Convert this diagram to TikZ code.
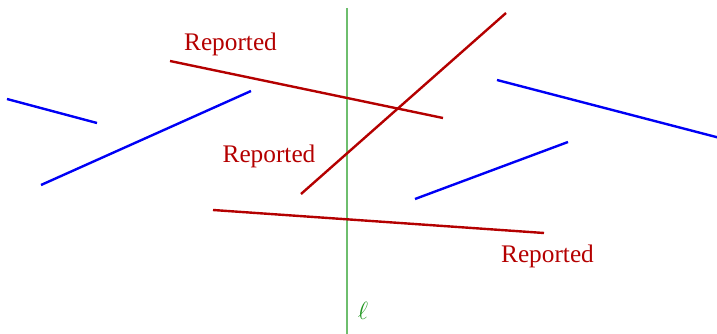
\documentclass[tikz,border=0pt]{standalone}
\usepackage{fontspec}
\setmainfont{Liberation Serif}
\begin{document}
\begin{tikzpicture}[x=1pt,y=-1pt,
  redline/.style={draw={rgb,255:red,180;green,0;blue,0},line width=2.4pt},
  blueline/.style={draw={rgb,255:red,0;green,0;blue,245},line width=2.4pt},
  lline/.style={draw={rgb,255:red,110;green,190;blue,110},line width=1.1pt},
  lbl/.style={text={rgb,255:red,180;green,0;blue,0},font=\fontsize{25.3}{30}\selectfont,inner sep=0pt,anchor=base}]
\useasboundingbox (0,0) rectangle (717,334);
% vertical line l
\coordinate (lt) at (347,8);
\coordinate (lb) at (347,334);
\draw[lline] (lt) -- (lb);
\node[inner sep=0pt,anchor=base,text={rgb,255:red,30;green,150;blue,30},font=\fontsize{31}{36}\selectfont] (ell) at (363,319) {$\ell$};
% blue lines
\coordinate (b1a) at (7,99);   \coordinate (b1b) at (97,123);
\coordinate (b2a) at (41,185); \coordinate (b2b) at (251,91);
\coordinate (b3a) at (497,80); \coordinate (b3b) at (720,138);
\coordinate (b4a) at (415,199);\coordinate (b4b) at (568,142);
\draw[blueline] (b1a) -- (b1b);
\draw[blueline] (b2a) -- (b2b);
\draw[blueline] (b3a) -- (b3b);
\draw[blueline] (b4a) -- (b4b);
% red lines
\coordinate (r1a) at (170,61);  \coordinate (r1b) at (443,118);
\coordinate (r2a) at (301,194); \coordinate (r2b) at (506,13);
\coordinate (r3a) at (213,210); \coordinate (r3b) at (544,233);
\draw[redline] (r1a) -- (r1b);
\draw[redline] (r2a) -- (r2b);
\draw[redline] (r3a) -- (r3b);
% labels
\node[lbl] (lab1) at (230.5,51) {Reported};
\node[lbl] (lab2) at (269,162) {Reported};
\node[lbl] (lab3) at (547.5,262) {Reported};
\end{tikzpicture}
\end{document}
